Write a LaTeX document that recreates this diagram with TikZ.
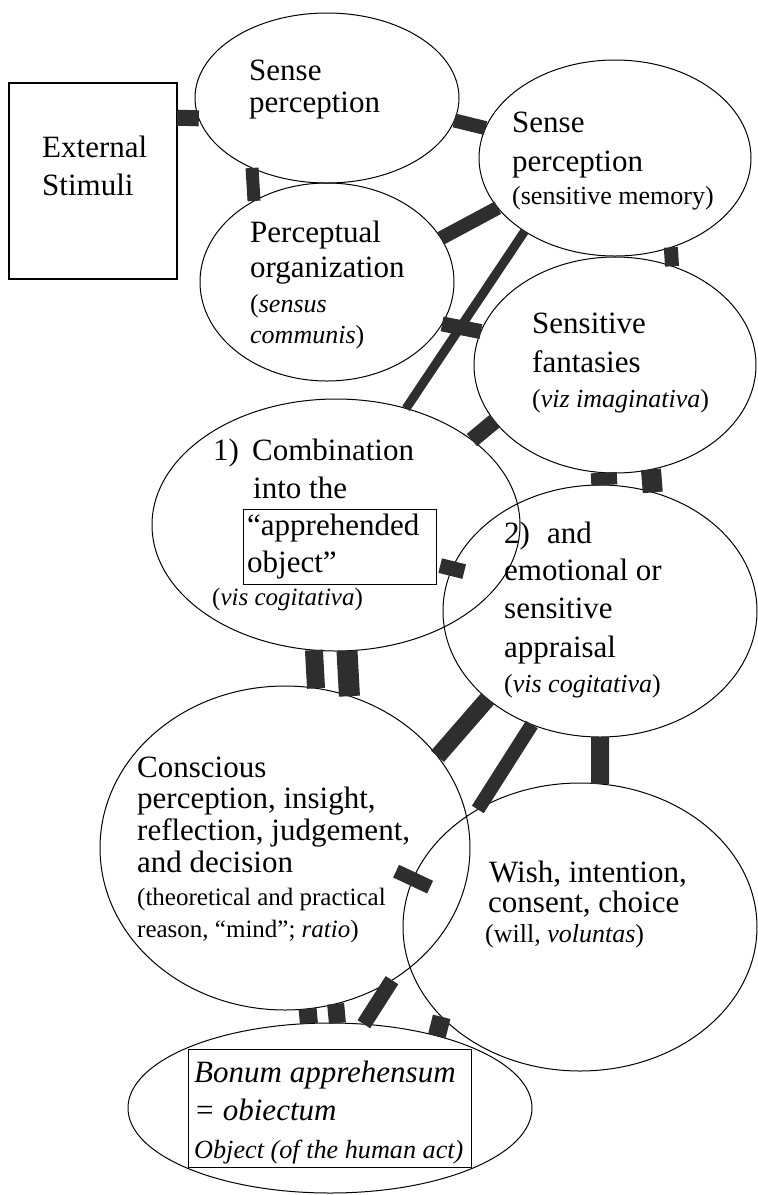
\documentclass[tikz,border=0pt]{standalone}
\usepackage{fontspec}
\setmainfont{Liberation Serif}
\usetikzlibrary{shapes.geometric}
\newcommand\fmain{\fontsize{31}{33}\selectfont}
\newcommand\fsmall{\fontsize{26}{28}\selectfont}
\newcommand\fsmaller{\fontsize{25}{26}\selectfont}
\newcommand\fbon{\fontsize{31}{32}\selectfont}
\newcommand\fbonsm{\fontsize{26.2}{27}\selectfont}
\begin{document}
\begin{tikzpicture}[x=1pt,y=-1pt,
  ell/.style={draw, ellipse, inner sep=0pt, outer sep=0pt, line width=1pt},
  boxn/.style={draw, rectangle, inner sep=0pt, outer sep=0pt, line width=1.2pt},
  txt/.style={anchor=base west, inner sep=0pt, font=\fmain},
  link/.style={line width=#1, draw=black!82}]
\path[fill=white] (0,0) rectangle (758,1195);
\useasboundingbox (0,0) rectangle (758,1195);

% shapes
\node[boxn, minimum width=168pt, minimum height=196pt] (EX) at (93,181) {};
\node[ell, minimum width=264pt, minimum height=170pt] (SP) at (327,98) {};
\node[ell, minimum width=272pt, minimum height=196pt] (MEM) at (615,158) {};
\node[ell, minimum width=254pt, minimum height=198pt] (PO) at (327,282) {};
\node[ell, minimum width=282pt, minimum height=216pt] (FAN) at (615,365) {};
\node[ell, minimum width=368pt, minimum height=252pt] (COMB) at (336,525) {};
\node[ell, minimum width=314pt, minimum height=252pt] (TWO) at (600,611) {};
\node[ell, minimum width=370pt, minimum height=324pt] (CON) at (285,848) {};
\node[ell, minimum width=354pt, minimum height=288pt] (WISH) at (580,927) {};
\node[ell, minimum width=404pt, minimum height=170pt] (BON) at (330,1108) {};
\node[boxn, line width=1pt, minimum width=193pt, minimum height=75pt] (ABOX) at (339.5,546.5) {};
\node[boxn, line width=1pt, minimum width=283pt, minimum height=118pt] (BBOX) at (329.5,1108) {};

% connectors
\draw[link=16pt] (EX.37.3) -- (SP.189.8);
\draw[link=13pt] (SP.223.6) -- (PO.132.6);
\draw[link=14pt] (SP.350.2) -- (MEM.167);
\draw[link=14pt] (PO.21.7) -- (MEM.203.7);
\draw[link=9pt] (COMB.59.5) -- (MEM.219.7);
\draw[link=14pt] (MEM.302.6) -- (FAN.60);
\draw[link=15pt] (PO.340.5) -- (FAN.166.2);
\draw[link=16pt] (COMB.32.2) -- (FAN.205.4);
\draw[link=26pt] (FAN.264.2) -- (TWO.88.2);
\draw[link=20pt] (FAN.289.6) -- (TWO.66.4);
\draw[link=15pt] ([shift={(-12,-3)}]TWO.164.6) -- ([shift={(12,3)}]TWO.164.6);
\draw[link=18pt] (COMB.260) -- (CON.79.7);
\draw[link=21pt] (COMB.275.5) -- (CON.67.5);
\draw[link=17pt] (TWO.218.7) -- (CON.31.5);
\draw[link=14pt] (TWO.239.1) -- (WISH.131.8);
\draw[link=18pt] (TWO.270) -- (WISH.82.4);
\draw[link=14pt] ([shift={(-17,-8)}]WISH.164.3) -- ([shift={(17,8)}]WISH.164.3);
\draw[link=18pt] (CON.278.5) -- (BON.104);
\draw[link=17pt] (CON.288.5) -- (BON.85.3);
\draw[link=15pt] (CON.309) -- (BON.68.5);
\draw[link=18pt] (WISH.213.1) -- (BON.34.3);

% texts
\node[txt] (ex1) at (42,157) {External};
\node[txt] (ex2) at (42,195) {Stimuli};
\node[txt] (sp1) at (249,80) {Sense};
\node[txt] (sp2) at (249,112) {perception};
\node[txt] (m1) at (512,132) {Sense};
\node[txt] (m2) at (512,171) {perception};
\node[txt,font=\fsmall] (m3) at (512,204) {(sensitive memory)};
\node[txt] (po1) at (250,242) {Perceptual};
\node[txt] (po2) at (250,277) {organization};
\node[txt,font=\fsmall] (po3) at (250,312) {(\textit{sensus}};
\node[txt,font=\fsmall] (po4) at (250,343) {\textit{communis})};
\node[txt] (f1) at (532,333) {Sensitive};
\node[txt] (f2) at (532,372) {fantasies};
\node[txt,font=\fsmall] (f3) at (532,407) {(\textit{viz imaginativa})};
\node[txt] (c1) at (213,460) {1)};
\node[txt] (c2) at (252,460) {Combination};
\node[txt] (c3) at (253,498) {into the};
\node[txt] (c4) at (247,535) {“apprehended};
\node[txt] (c5) at (247,572) {object”};
\node[txt,font=\fsmaller] (c6) at (212,605) {(\textit{vis cogitativa})};
\node[txt] (t1) at (504,543) {2)};
\node[txt] (t2) at (547,543) {and};
\node[txt] (t3) at (504,580) {emotional or};
\node[txt] (t4) at (504,618) {sensitive};
\node[txt] (t5) at (504,657) {appraisal};
\node[txt,font=\fsmall] (t6) at (504,692) {(\textit{vis cogitativa})};
\node[txt] (k1) at (137,777) {Conscious};
\node[txt] (k2) at (137,808) {perception, insight,};
\node[txt] (k3) at (137,840) {reflection, judgement,};
\node[txt] (k4) at (137,872) {and decision};
\node[txt,font=\fsmaller] (k5) at (137,905) {(theoretical and practical};
\node[txt,font=\fsmaller] (k6) at (137,937) {reason, “mind”; \textit{ratio})};
\node[txt] (w1) at (489,882) {Wish, intention,};
\node[txt] (w2) at (488,912) {consent, choice};
\node[txt,font=\fsmall] (w3) at (485,942) {(will, \textit{voluntas})};
\node[txt,font=\fbon] (b1) at (194,1082) {\textit{Bonum apprehensum}};
\node[txt,font=\fbon] (b2) at (194,1120) {\textit{= obiectum}};
\node[txt,font=\fbonsm] (b3) at (194,1158) {\textit{Object (of the human act)}};
\end{tikzpicture}
\end{document}
